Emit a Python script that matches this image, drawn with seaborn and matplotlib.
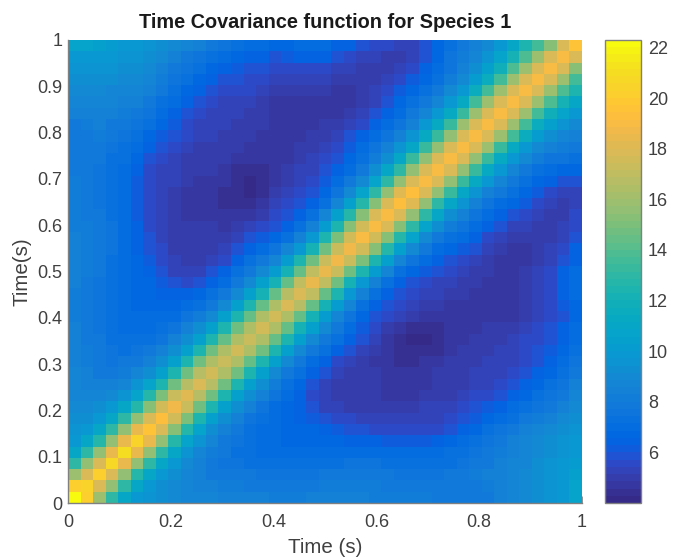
import numpy as np
import seaborn as sns
import matplotlib.pyplot as plt
from matplotlib.colors import ListedColormap

# upper triangle of the covariance matrix, row i holds columns i..40
cov_upper = [
    [22.3,20.2,16,13,11, 10,9.5,9.2,9,8.8, 8.6,8.6,8.5,8.4,8.4, 8.3,8.2,8.2,8.2,8.3, 8.4,8.4,8.4,8.3,8.2, 8.2,8.2,8.2,8.2,8, 8,8,8,8,8.4, 8.6,9,9.2,9.6,10, 10.6],
    [20.5,18,15.5,13,11, 10,9.3,9,8.6,8.5, 8.3,8.2,8.1,8,8, 8,8,8,8,8.2, 8.2,8.2,8.2,8.1,8, 8,8,8,8,8, 8,8,8.2,8.4,8.6, 9,9.3,9.6,10,10.6],
    [20.2,18,15.5,12.8,11, 9.8,9.2,8.8,8.3,8, 7.9,7.8,7.8,7.7,7.6, 7.6,7.6,7.6,7.8,7.9, 7.9,7.9,7.9,7.8,7.7, 7.7,7.7,7.7,7.8,7.9, 8.1,8.3,8.5,8.8,9, 9.4,9.7,10,10.4],
    [20.8,18.3,15.5,13,11, 9.8,9,8.4,8,7.7, 7.5,7.4,7.3,7.3,7.2, 7.2,7.2,7.3,7.4,7.5, 7.5,7.5,7.4,7.3,7.3, 7.3,7.3,7.4,7.6,7.8, 8,8.3,8.6,8.8,9.2, 9.5,9.8,10.2],
    [21,18.5,15.5,13,11, 9.6,8.8,8.2,7.8,7.4, 7.2,7.1,7,6.9,6.9, 6.9,6.9,6.9,7,7, 7,7,7,7,7, 7.1,7.2,7.4,7.6,7.9, 8.2,8.5,8.8,9.1,9.4, 9.7,10],
    [20.3,18.5,15.5,12.8,10.8, 9.6,8.6,8,7.6,7.2, 7,6.9,6.8,6.8,6.7, 6.7,6.6,6.5,6.4,6.3, 6.2,6.1,6.1,6.1,6.3, 6.6,7,7.3,7.6,8, 8.4,8.8,9,9.3,9.6, 9.9],
    [19.7,18,15.3,12.8,10.8, 9.4,8.4,7.8,7.4,7.1, 6.9,6.8,6.7,6.6,6.4, 6.2,6,5.8,5.6,5.5, 5.5,5.5,5.5,5.6,6, 6.4,6.8,7.2,7.6,8, 8.3,8.7,9,9.3,9.7],
    [19.2,17.5,15,12.5,10.5, 9.2,8.3,7.6,7.2,6.9, 6.7,6.5,6.2,5.9,5.7, 5.5,5.4,5.3,5.3,5.3, 5.3,5.3,5.4,5.5,5.8, 6.2,6.6,7,7.4,7.8, 8.2,8.5,8.9,9.4],
    [18.6,17.3,14.8,12.5,10.5, 9.2,8.3,7.6,7.1,6.7, 6.3,5.8,5.4,5.2,5.1, 5,5,5,5,5.1, 5.2,5.2,5.3,5.5,5.8, 6.2,6.5,6.9,7.3,7.7, 8,8.4,9],
    [18.2,16.8,14.6,12.3,10.5, 9.2,8.3,7.5,6.9,6.3, 5.7,5.3,5.1,5,4.9, 4.9,4.8,4.8,4.8,4.9, 5,5.1,5.3,5.5,5.7, 6,6.4,6.8,7.2,7.6, 8,8.7],
    [17.8,16.8,14.8,12.5,10.5, 9.2,8.2,7.4,6.7,6, 5.4,5.1,5,4.9,4.9, 4.8,4.8,4.8,4.8,4.9, 5,5.1,5.3,5.4,5.6, 5.9,6.3,6.8,7.2,7.7, 8.3],
    [17.6,16.5,14.6,12.5,10.5, 9,8,7.2,6.5,5.8, 5.3,5.1,5,4.9,4.8, 4.7,4.7,4.8,4.9,5, 5.1,5.2,5.3,5.4,5.6, 5.9,6.3,6.8,7.3,7.9],
    [17.3,16.3,14.4,12.3,10.4, 9,7.9,7,6.3,5.7, 5.2,5,4.8,4.6,4.5, 4.5,4.6,4.8,4.9,5, 5.1,5.2,5.3,5.4,5.6, 5.9,6.4,6.9,7.6],
    [17.5,16.3,14.6,12.5,10.4, 9,8,7.2,6.5,5.9, 5.4,5,4.7,4.4,4.3, 4.3,4.5,4.7,4.9,5, 5,5.2,5.4,5.6,5.8, 6.1,6.6,7.3],
    [17.4,16.4,14.4,12.3,10.4, 9,8,7.2,6.4,5.8, 5.2,4.6,4.3,4.2,4.2, 4.4,4.6,4.8,4.9,5, 5.1,5.3,5.5,5.7,6, 6.4,7],
    [17.5,16.5,14.5,12.2,10.3, 9,7.8,6.9,6.2,5.6, 5,4.6,4.4,4.3,4.4, 4.6,4.7,4.8,4.9,5, 5.1,5.3,5.5,5.8,6.3, 6.9],
    [17.7,16.5,14.4,12.2,10.2, 8.8,7.6,6.7,6,5.5, 5.2,4.9,4.7,4.6,4.6, 4.6,4.7,4.7,4.7,4.8, 5,5.2,5.5,6,6.7],
    [17.9,16.6,14.4,12.2,10.2, 8.6,7.3,6.4,5.9,5.6, 5.3,5.1,4.9,4.8,4.7, 4.7,4.7,4.7,4.8,5, 5.2,5.6,6.1,6.8],
    [18,16.9,14.5,12.3,10, 8.4,7.2,6.3,5.9,5.6, 5.4,5.2,5,4.9,4.8, 4.7,4.7,4.8,5,5.3, 5.7,6.3,7],
    [18.3,17,14.7,12.2,10, 8.4,7.2,6.5,6,5.7, 5.4,5.2,5,4.9,4.8, 4.7,4.7,4.9,5.2,5.7, 6.4,7.1],
    [18.4,17.2,14.8,12.3,10.2, 8.6,7.4,6.7,6.2,5.8, 5.5,5.3,5.1,4.9,4.7, 4.7,4.9,5.2,5.6,6.3, 7],
    [18.6,17.4,15,12.5,10.3, 8.7,7.6,6.9,6.4,6, 5.7,5.4,5.1,4.8,4.7, 4.7,4.9,5.2,5.8,6.5],
    [18.8,17.5,15.2,12.7,10.4, 8.9,7.8,7.1,6.6,6.2, 5.8,5.3,5,4.8,4.8, 4.9,5.2,5.7,6.5],
    [18.9,17.7,15.3,12.8,10.6, 9.1,8,7.3,6.9,6.3, 5.7,5.2,5,4.9,4.9, 5,5.3,6],
    [19,17.8,15.4,12.9,10.8, 9.3,8.2,7.5,7,6.4, 5.8,5.4,5.2,5,5, 5.2,5.7],
    [19.1,18,15.5,13,10.9, 9.4,8.3,7.6,7.1,6.5, 6,5.6,5.2,5,5.1, 5.5],
    [19.2,18.1,15.6,13.1,11, 9.5,8.4,7.7,7.1,6.6, 6.1,5.6,5.2,5.1,5.4],
    [19.2,18,15.6,13.2,11, 9.6,8.5,7.8,7.2,6.6, 6.1,5.6,5.3,5.4],
    [19,18,15.7,13.2,11.2, 9.8,8.7,7.9,7.2,6.7, 6.3,6,6],
    [19,18,15.7,13.3,11.2, 9.8,8.8,8,7.4,7, 6.8,6.7],
    [19,17.9,15.7,13.3,11.3, 10,8.9,8.2,7.7,7.5, 7.4],
    [19,18,15.8,13.4,11.4, 10,9,8.5,8.1,7.9],
    [19,18,15.8,13.5,11.5, 10.2,9.3,8.8,8.4],
    [19,17.9,15.8,13.5,11.6, 10.4,9.6,9],
    [18.9,17.9,15.8,13.6,11.8, 10.7,10],
    [18.9,17.9,15.8,13.8,12.2, 11],
    [18.9,18,16,14,12.5],
    [19,18,16,13.5],
    [19,18,15.2],
    [19,17.8],
    [19.5],
]
x_ticks = [0, 0.2, 0.4, 0.6, 0.8, 1]
y_ticks = [0, 0.1, 0.2, 0.3, 0.4, 0.5, 0.6, 0.7, 0.8, 0.9, 1]
cbar_ticks = [6, 8, 10, 12, 14, 16, 18, 20, 22]

parula = ListedColormap([
    [0.2081,0.1663,0.5292],[0.2116,0.1898,0.5777],[0.2123,0.2138,0.6270],[0.2081,0.2386,0.6771],
    [0.1959,0.2645,0.7279],[0.1707,0.2919,0.7792],[0.1253,0.3242,0.8303],[0.0591,0.3598,0.8683],
    [0.0117,0.3875,0.8820],[0.0060,0.4086,0.8828],[0.0165,0.4266,0.8786],[0.0329,0.4430,0.8720],
    [0.0498,0.4586,0.8641],[0.0629,0.4737,0.8554],[0.0723,0.4887,0.8467],[0.0779,0.5040,0.8384],
    [0.0793,0.5200,0.8312],[0.0749,0.5375,0.8263],[0.0641,0.5570,0.8240],[0.0488,0.5772,0.8228],
    [0.0343,0.5966,0.8199],[0.0265,0.6137,0.8135],[0.0239,0.6287,0.8038],[0.0231,0.6418,0.7913],
    [0.0228,0.6535,0.7768],[0.0267,0.6642,0.7607],[0.0384,0.6743,0.7436],[0.0590,0.6838,0.7254],
    [0.0843,0.6928,0.7062],[0.1133,0.7015,0.6859],[0.1453,0.7098,0.6646],[0.1807,0.7178,0.6424],
    [0.2178,0.7250,0.6193],[0.2586,0.7317,0.5954],[0.3022,0.7376,0.5712],[0.3482,0.7424,0.5473],
    [0.3953,0.7459,0.5244],[0.4420,0.7481,0.5033],[0.4871,0.7491,0.4840],[0.5300,0.7491,0.4661],
    [0.5709,0.7485,0.4494],[0.6099,0.7473,0.4337],[0.6473,0.7456,0.4188],[0.6834,0.7435,0.4044],
    [0.7184,0.7411,0.3905],[0.7525,0.7384,0.3768],[0.7858,0.7356,0.3633],[0.8185,0.7327,0.3498],
    [0.8507,0.7299,0.3360],[0.8824,0.7274,0.3217],[0.9139,0.7258,0.3063],[0.9450,0.7261,0.2886],
    [0.9739,0.7314,0.2666],[0.9938,0.7455,0.2403],[0.9990,0.7653,0.2164],[0.9955,0.7861,0.1967],
    [0.9880,0.8066,0.1794],[0.9789,0.8271,0.1633],[0.9697,0.8481,0.1475],[0.9626,0.8705,0.1309],
    [0.9589,0.8949,0.1132],[0.9598,0.9218,0.0948],[0.9661,0.9514,0.0755],[0.9763,0.9831,0.0538],
])

n = len(cov_upper)
cov = np.zeros((n, n))
for i, row in enumerate(cov_upper):
    cov[i, i:] = row
    cov[i:, i] = row

sns.set_style('white')
plt.rcParams['font.family'] = ['Liberation Sans', 'DejaVu Sans']
grey = '#404040'
W, H = 674, 558

fig = plt.figure(figsize=(W / 100, H / 100), dpi=100)
ax = fig.add_axes([68 / W, 1 - 503 / H, 514 / W, 463 / H])
cax = fig.add_axes([605 / W, 1 - 503 / H, 36 / W, 463 / H])

sns.heatmap(cov, cmap=parula, vmin=4.0, vmax=22.3, ax=ax, cbar_ax=cax,
            xticklabels=False, yticklabels=False)
ax.set_ylim(0, n)
ax.set_xlim(0, n)

ax.set_xticks([t * n for t in x_ticks])
ax.set_xticklabels([f'{t:g}' for t in x_ticks])
ax.set_yticks([t * n for t in y_ticks])
ax.set_yticklabels([f'{t:g}' for t in y_ticks])
ax.tick_params(direction='in', length=5, width=0.6, color='#808080', labelsize=13,
               labelcolor=grey, bottom=True, left=True)
ax.tick_params(axis='x', pad=8)
ax.tick_params(axis='y', pad=4)
for side in ['left', 'bottom']:
    ax.spines[side].set_visible(True)
    ax.spines[side].set_color('#808080')
    ax.spines[side].set_linewidth(1)
for side in ['top', 'right']:
    ax.spines[side].set_visible(False)

ax.set_title('Time Covariance function for Species 1', fontsize=14.3, fontweight='bold',
             color='#1a1a1a', pad=9)
ax.set_xlabel('Time (s)', fontsize=14.8, color=grey, labelpad=5)
ax.set_ylabel('Time(s)', fontsize=14.8, color=grey, labelpad=4)

cbar = ax.collections[0].colorbar
cbar.set_ticks(cbar_ticks)
cbar.ax.tick_params(direction='in', length=4, width=0.6, color='#404040', labelsize=13,
                    labelcolor=grey, pad=5, right=True)
cbar.outline.set_visible(True)
cbar.outline.set_edgecolor('#808080')
cbar.outline.set_linewidth(1)

fig.savefig('out.png', dpi=100)
